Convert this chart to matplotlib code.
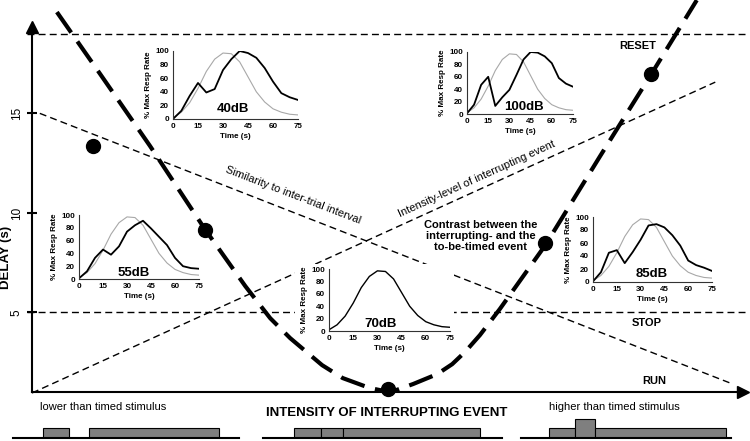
import matplotlib
matplotlib.use('Agg')
import matplotlib.pyplot as plt
from matplotlib.patches import Rectangle

plt.rcParams['font.family'] = ['Liberation Sans', 'DejaVu Sans']

# ---- main diagram (x: intensity of interrupting event, arbitrary 0-100; y: delay in s)
delay_ticks = [5, 10, 15]
reset_delay = 19.0
stop_delay = 5.0

v_intensity = [3.5, 9.6, 16.6, 24.3, 30.0, 33.5, 36.3, 40.8, 43.7, 47.5, 50.4,
               53.6, 57.0, 59.1, 60.9, 63.0, 65.8, 72.2, 79.9, 87.1, 93.5]
v_delay = [20.09, 16.97, 13.36, 9.19, 6.32, 4.71, 3.71, 2.35, 1.70, 1.20, 0.99,
           1.40, 1.90, 2.40, 3.01, 3.86, 5.17, 8.38, 12.85, 16.97, 20.69]

dot_intensity = [8.6, 24.3, 50.1, 72.2, 87.1]
dot_delay = [13.36, 9.14, 1.14, 8.48, 16.97]

similarity_x = [1.1, 98.2]
similarity_y = [15.0, 1.45]
intensity_x = [0.0, 96.1]
intensity_y = [0.95, 16.57]

# ---- inset curves (% max response rate vs time)
times = [0, 5, 10, 15, 20, 25, 30, 35, 40, 45, 50, 55, 60, 65, 70, 75]
resp_70 = [2, 10, 24, 45, 70, 88, 97, 96, 84, 62, 40, 25, 15, 10, 7, 6]
resp_40 = [0, 12, 34, 53, 39, 44, 72, 88, 100, 97, 90, 75, 55, 38, 32, 28]
resp_55 = [1, 12, 33, 46, 38, 51, 74, 84, 91, 79, 66, 53, 33, 20, 17, 16]
resp_85 = [1, 15, 45, 49, 29, 46, 65, 87, 89, 84, 72, 56, 33, 26, 22, 17]
resp_100 = [1, 15, 47, 60, 13, 27, 39, 63, 88, 100, 99, 93, 82, 58, 49, 44]

# ---- stimulus timelines (start, duration, relative level)
seg_start = [0, 13, 23]
seg_dur = [13, 10, 65]
level_low = [1, 0, 1]
level_same = [1, 1, 1]
level_high = [1, 1.9, 1]

W, H = 750, 441
fig = plt.figure(figsize=(7.5, 4.41), dpi=100)
main_pos = [32 / W, 1 - 392 / H, (743 - 32) / W, (392 - 27) / H]

ax = fig.add_axes(main_pos, zorder=0)
ax.set_xlim(0, 100)
ax.set_ylim(1.0, 19.34)
for s in ('top', 'right'):
    ax.spines[s].set_visible(False)
for s in ('left', 'bottom'):
    ax.spines[s].set_linewidth(1.5)
ax.set_xticks([])
ax.set_yticks(delay_ticks)
ax.set_yticklabels([str(t) for t in delay_ticks], rotation=90, va='center', fontsize=8.5)
ax.tick_params(axis='y', direction='inout', length=7, width=1.5, pad=3)
ax.plot([0], [1], marker='^', ms=8, color='k', transform=ax.transAxes, clip_on=False)
ax.plot([1], [0], marker='>', ms=8, color='k', transform=ax.transAxes, clip_on=False)

thin = dict(color='black', lw=1.0, dashes=(5, 3), clip_on=False)
ax.plot([-0.7, 100.3], [reset_delay, reset_delay], **thin)
ax.plot([-0.7, 100.3], [stop_delay, stop_delay], **thin)
ax.plot(similarity_x, similarity_y, **thin)
ax.plot(intensity_x, intensity_y, **thin)

fig.text(6 / W, 1 - 257 / H, 'DELAY (s)', rotation=90, ha='center', va='center',
         fontsize=9.5, fontweight='bold')

# ---- insets
insets = [
    ([173, 51, 298, 119], resp_40, '40dB', (36, 11), True),
    ([467, 52, 573, 114], resp_100, '100dB', (40, 7), True),
    ([79, 215, 199, 279], resp_55, '55dB', (34, 4), True),
    ([329, 269, 450, 331], resp_70, '70dB', (32, 6), False),
    ([593, 217, 712, 282], resp_85, '85dB', (37, 7), True),
]
for (x0, y0, x1, y1), resp, name, (lx, ly), show_ref in insets:
    iax = fig.add_axes([x0 / W, 1 - y1 / H, (x1 - x0) / W, (y1 - y0) / H], zorder=2)
    iax.add_patch(Rectangle((-0.28, -0.05), 1.31, 1.13, transform=iax.transAxes,
                            facecolor='white', edgecolor='none', clip_on=False, zorder=0))
    if show_ref:
        iax.plot(times, resp_70, color='#a8a8a8', lw=0.8)
        iax.plot(times, resp, color='black', lw=1.3)
    else:
        iax.plot(times, resp, color='black', lw=1.0)
    iax.set_xlim(0, 75)
    iax.set_ylim(0, 100)
    iax.set_xticks([0, 15, 30, 45, 60, 75])
    iax.set_yticks([0, 20, 40, 60, 80, 100])
    iax.tick_params(length=0, pad=3, labelsize=5.8)
    for lbl in iax.get_xticklabels() + iax.get_yticklabels():
        lbl.set_fontweight('bold')
    for s in ('top', 'right'):
        iax.spines[s].set_visible(False)
    for s in ('left', 'bottom'):
        iax.spines[s].set_linewidth(0.8)
        iax.spines[s].set_color('#333333')
    iax.set_xlabel('Time (s)', fontsize=5.8, fontweight='bold', labelpad=2)
    iax.set_ylabel('% Max Resp Rate', fontsize=5.8, fontweight='bold', labelpad=2)
    iax.text(lx, ly, name, ha='center', va='baseline', fontsize=9.5, fontweight='bold')

# ---- overlay: V curve, dots, labels
top = fig.add_axes(main_pos, zorder=3)
top.set_xlim(ax.get_xlim())
top.set_ylim(ax.get_ylim())
top.axis('off')
top.patch.set_alpha(0)
top.plot(v_intensity, v_delay, color='black', lw=3, dashes=(6, 2.6),
         dash_capstyle='butt', clip_on=False)
top.plot(dot_intensity, dot_delay, 'o', color='black', ms=10, clip_on=False)

top.text(85.2, 18.38, 'RESET', ha='center', va='center', fontsize=8, fontweight='bold')
top.text(86.5, 4.46, 'STOP', ha='center', va='center', fontsize=8, fontweight='bold')
top.text(87.5, 1.55, 'RUN', ha='center', va='center', fontsize=8, fontweight='bold')
top.text(36.7, 10.89, 'Similarity to inter-trial interval', rotation=-21,
         rotation_mode='anchor', ha='center', va='center', fontsize=8)
top.text(62.6, 11.69, 'Intensity-level of interrupting event', rotation=24.5,
         rotation_mode='anchor', ha='center', va='center', fontsize=8)
top.text(63.1, 8.83, 'Contrast between the\ninterrupting- and the\nto-be-timed event',
         ha='center', va='center', fontsize=8, fontweight='bold', linespacing=1.15)

# ---- stimulus timelines under the axis
panels = [
    ([13, 239], (-15, 98), level_low),
    ([263, 502], (-14.7, 98.6), level_same),
    ([521, 731], (-13.9, 90.5), level_high),
]
for (px0, px1), xl, levels in panels:
    bx = fig.add_axes([px0 / W, 3 / H, (px1 - px0) / W, 23 / H])
    keep = [i for i, lv in enumerate(levels) if lv > 0]
    bx.bar([seg_start[i] for i in keep], [levels[i] for i in keep],
           width=[seg_dur[i] for i in keep], align='edge',
           color='#7f7f7f', edgecolor='black', lw=0.8)
    bx.set_xlim(*xl)
    bx.set_ylim(0, 2.3)
    bx.set_xticks([])
    bx.set_yticks([])
    bx.patch.set_alpha(0)
    for s in ('top', 'right', 'left'):
        bx.spines[s].set_visible(False)
    bx.spines['bottom'].set_linewidth(1.5)

fig.text(103 / W, 1 - 407 / H, 'lower than timed stimulus', ha='center', va='center', fontsize=8)
fig.text(614 / W, 1 - 407 / H, 'higher than timed stimulus', ha='center', va='center', fontsize=8)
fig.text(387 / W, 1 - 413 / H, 'INTENSITY OF INTERRUPTING EVENT', ha='center', va='center',
         fontsize=9.5, fontweight='bold')

fig.savefig('out.png', dpi=100)
